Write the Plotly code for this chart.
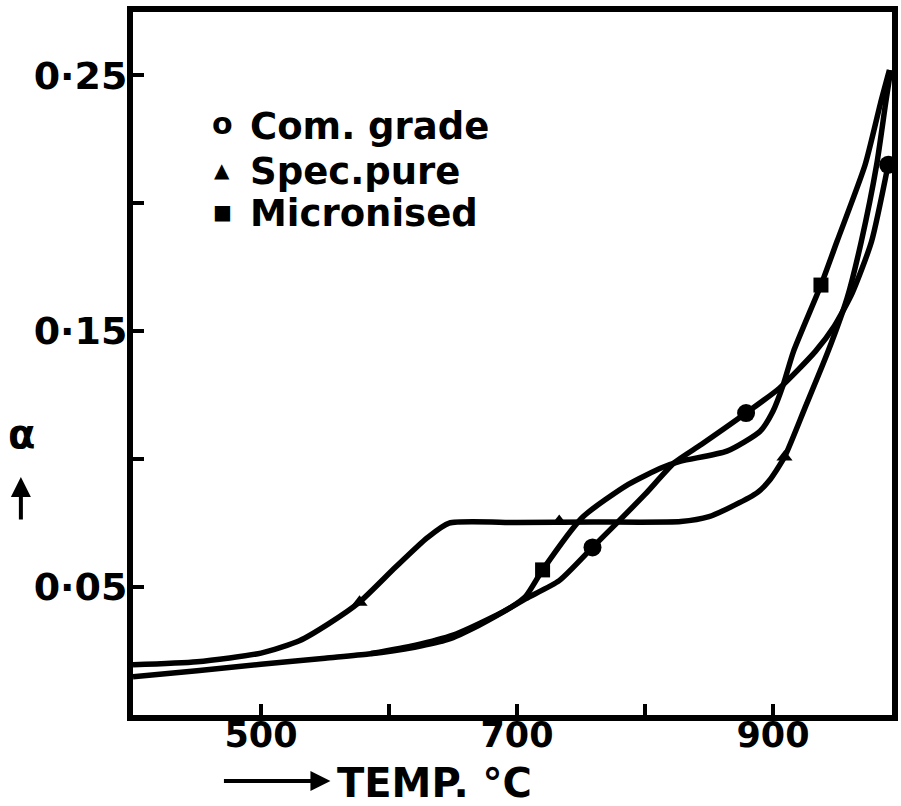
import plotly.graph_objects as go

# ---------------- data ----------------
com_x = [400, 450, 500, 550, 584, 620, 646, 670, 690, 707, 733, 759, 777, 800, 823, 844, 879, 905, 933, 948, 962, 977, 990]
com_y = [0.0149, 0.0173, 0.0198, 0.0222, 0.0238, 0.0265, 0.0295, 0.0350, 0.0405, 0.0455, 0.0525, 0.0655, 0.0745, 0.0862,
         0.0986, 0.1057, 0.1180, 0.1277, 0.1420, 0.1520, 0.1650, 0.1850, 0.2150]
com_mx = [759, 879, 990]
com_my = [0.0655, 0.1180, 0.2150]

spec_x = [400, 450, 500, 530, 553, 577, 605, 630, 647, 700, 760, 828, 850, 870, 888, 897, 909, 925, 943, 958, 969, 981, 988, 992]
spec_y = [0.0196, 0.0208, 0.0242, 0.0290, 0.0357, 0.0441, 0.0577, 0.0693, 0.0750, 0.0752, 0.0754, 0.0756, 0.0775, 0.0820,
          0.0870, 0.0915, 0.1008, 0.1200, 0.1420, 0.1630, 0.1850, 0.2150, 0.2390, 0.2520]
spec_mx = [577, 733, 909]
spec_my = [0.0441, 0.0756, 0.1008]

mic_x = [586, 620, 650, 680, 695, 707, 720, 751, 787, 813, 828, 864, 890, 900, 908, 916, 937.5, 950, 972, 984, 991]
mic_y = [0.0240, 0.0272, 0.0312, 0.0380, 0.0420, 0.0465, 0.0567, 0.0772, 0.0901, 0.0966, 0.0992, 0.1031, 0.1109, 0.1187,
         0.1290, 0.1420, 0.1680, 0.1850, 0.2150, 0.2390, 0.2520]
mic_mx = [720, 937.5]
mic_my = [0.0567, 0.1680]

x_tickvals = [500, 600, 700, 800, 900]
x_ticktext = ["500", "", "700", "", "900"]
y_tickvals = [0.05, 0.10, 0.15, 0.20, 0.25]
y_ticktext = ["0·05", "", "0·15", "", "0·25"]

legend_labels = ["Com. grade", "Spec.pure", "Micronised"]
legend_symbols = ["o", "▲", "■"]

# ---------------- figure ----------------
FONT = "DejaVu Sans"
fig = go.Figure()
line_style = dict(color="black", width=5.5, shape="spline", smoothing=0.6)
for xs, ys, nm in [(com_x, com_y, legend_labels[0]), (spec_x, spec_y, legend_labels[1]), (mic_x, mic_y, legend_labels[2])]:
    fig.add_trace(go.Scatter(x=xs, y=ys, mode="lines", line=line_style, name=nm, showlegend=False, hoverinfo="skip"))

fig.add_trace(go.Scatter(x=com_mx, y=com_my, mode="markers", marker=dict(symbol="circle", size=18, color="black"),
                         showlegend=False, hoverinfo="skip"))
fig.add_trace(go.Scatter(x=spec_mx, y=spec_my, mode="markers", marker=dict(symbol="triangle-up", size=14, color="black"),
                         showlegend=False, hoverinfo="skip"))
fig.add_trace(go.Scatter(x=mic_mx, y=mic_my, mode="markers", marker=dict(symbol="square", size=15, color="black"),
                         showlegend=False, hoverinfo="skip"))

L, R, T, B = 133, 898, 12, 715
W = R - L
H = B - T

def px(xp):
    return (xp - L) / W

def py(yp):
    return (B - yp) / H

annotations = []
leg_y = [125, 170, 212]
sym_sizes = [30, 20, 20]
sym_dy = [-2, 0, 0]
for lab, sym, yy, ss, dy in zip(legend_labels, legend_symbols, leg_y, sym_sizes, sym_dy):
    annotations.append(dict(x=px(223), y=py(yy + dy), xref="paper", yref="paper", text="<b>" + sym + "</b>",
                            showarrow=False, font=dict(family=FONT, size=ss, color="black"),
                            xanchor="center", yanchor="middle"))
    annotations.append(dict(x=px(249), y=py(yy + 1), xref="paper", yref="paper", text="<b>" + lab + "</b>",
                            showarrow=False, font=dict(family=FONT, size=37, color="black"),
                            xanchor="left", yanchor="middle"))

# x axis title with arrow
annotations.append(dict(x=px(332), y=py(781), xref="paper", yref="paper", text="", showarrow=True,
                        ax=-108, ay=0, arrowhead=2, arrowsize=1, arrowwidth=4, arrowcolor="black"))
annotations.append(dict(x=px(337), y=py(783), xref="paper", yref="paper", text="<b>TEMP. °C</b>", showarrow=False,
                        font=dict(family=FONT, size=40, color="black"), xanchor="left", yanchor="middle"))
# y axis title with arrow
annotations.append(dict(x=px(21), y=py(434), xref="paper", yref="paper", text="<b>α</b>", showarrow=False,
                        font=dict(family=FONT, size=40, color="black"), xanchor="center", yanchor="middle"))
annotations.append(dict(x=px(20), y=py(477), xref="paper", yref="paper", text="", showarrow=True,
                        ax=0, ay=44, arrowhead=2, arrowsize=1, arrowwidth=4, arrowcolor="black"))

fig.update_layout(
    width=901, height=806,
    margin=dict(l=L, r=901 - R, t=T, b=806 - B, pad=0),
    paper_bgcolor="white", plot_bgcolor="white",
    showlegend=False, hovermode=False,
    annotations=annotations,
    xaxis=dict(range=[400, 993], tickvals=x_tickvals, ticktext=["<b>%s</b>" % t if t else "" for t in x_ticktext],
               ticks="inside", ticklen=11,
               tickwidth=4, tickcolor="black", showline=True, linewidth=6, linecolor="black", mirror=True,
               showgrid=False, zeroline=False, ticklabelstandoff=-16,
               tickfont=dict(family=FONT, size=35, color="black")),
    yaxis=dict(range=[0, 0.2747], tickvals=y_tickvals, ticktext=["<b>%s</b>" % t if t else "" for t in y_ticktext],
               ticks="inside", ticklen=11,
               tickwidth=4, tickcolor="black", showline=True, linewidth=6, linecolor="black", mirror=True,
               showgrid=False, zeroline=False, ticklabelstandoff=-8,
               tickfont=dict(family=FONT, size=38, color="black")),
)

fig.write_html("out.html")
